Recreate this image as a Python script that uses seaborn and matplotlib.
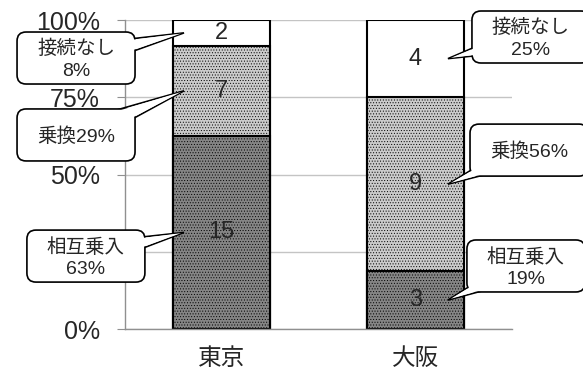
# stacked 100% bar chart with callouts

import numpy as np
import pandas as pd
import seaborn as sns
import matplotlib.pyplot as plt
from matplotlib.patches import FancyBboxPatch, Polygon
from matplotlib.transforms import IdentityTransform

# data
cities = ['東京', '大阪']
segments = ['相互乗入', '乗換', '接続なし']
mutual = [15, 3]
transfer = [7, 9]
no_link = [2, 4]
y_ticks = [0, 0.25, 0.5, 0.75, 1.0]
y_tick_labels = ['0%', '', '50%', '75%', '100%']  # 25% is hidden behind a callout

df = pd.DataFrame({'city': cities, '相互乗入': mutual, '乗換': transfer, '接続なし': no_link})
share = df[segments].div(df[segments].sum(axis=1), axis=0)
cum = share.cumsum(axis=1)

# style
sns.set_style('white')
plt.rcParams['font.family'] = ['Liberation Sans', 'Noto Sans CJK JP', 'DejaVu Sans']
plt.rcParams['hatch.linewidth'] = 0.4

seg_style = {
    '相互乗入': dict(color='#858585', hatch='......'),
    '乗換': dict(color='#cbcbcb', hatch='......'),
    '接続なし': dict(color='white', hatch=None),
}

fig = plt.figure(figsize=(5.83, 3.74), dpi=100)
ax = fig.add_axes([0.2144, 0.1203, 0.6638, 0.8262])

# draw cumulative layers, tallest first
plot_df = pd.concat([df[['city']], cum], axis=1)
for seg in reversed(segments):
    sns.barplot(data=plot_df, x='city', y=seg, color=seg_style[seg]['color'], saturation=1,
                width=0.5, edgecolor='black', linewidth=1.5, hatch=seg_style[seg]['hatch'],
                errorbar=None, ax=ax, zorder=2)

# counts inside bars
counts = df[segments].values
for i in range(len(cities)):
    for j, seg in enumerate(segments):
        mid = cum.iloc[i, j] - share.iloc[i, j] / 2
        ax.text(i, mid, str(counts[i, j]), ha='center', va='center', fontsize=17, zorder=3)

# axes
ax.set_xlim(-0.5, 1.5)
ax.set_ylim(0, 1)
ax.set_yticks(y_ticks)
ax.set_yticklabels(y_tick_labels)
ax.set_xlabel('')
ax.set_ylabel('')
ax.yaxis.grid(True, color='#c4c4c4', lw=1)
ax.set_axisbelow(True)
ax.set_xticks([-0.5, 0.5, 1.5], minor=True)
ax.tick_params(axis='x', which='major', length=0, pad=14, labelsize=17)
ax.tick_params(axis='x', which='minor', length=7, color='#909090', direction='out')
ax.tick_params(axis='y', length=6, color='#909090', pad=12, labelsize=18, left=True)
for s in ['top', 'right']:
    ax.spines[s].set_visible(False)
for s in ['left', 'bottom']:
    ax.spines[s].set_color('#909090')
    ax.spines[s].set_linewidth(1)

# callouts (box centres in data coords, drawn in pixels)
def pct_text(p):
    return f'{int(np.floor(p * 100 + 0.5))}%'

callout_pos = {
    (0, '接続なし'): (-0.753, 0.877),
    (0, '乗換'): (-0.753, 0.628),
    (0, '相互乗入'): (-0.702, 0.236),
    (1, '接続なし'): (1.598, 0.945),
    (1, '乗換'): (1.588, 0.579),
    (1, '相互乗入'): (1.572, 0.204),
}
tip_dx = [-0.195, 0.169]
box_w, box_h, half = 118, 52, 13
px = IdentityTransform()

for (i, seg), (bx, by) in callout_pos.items():
    sep = '' if seg == '乗換' else '\n'
    label = f'{seg}{sep}{pct_text(share.loc[i, seg])}'
    mid = cum.loc[i, seg] - share.loc[i, seg] / 2
    c = ax.transData.transform((bx, by))
    t = ax.transData.transform((i + tip_dx[i], mid))
    d = t - c
    u = d / np.hypot(*d)
    n = np.array([-u[1], u[0]])
    fig.add_artist(Polygon([c + n * half, t, c - n * half], closed=True, fc='white', ec='black',
                           lw=1.2, transform=px, zorder=5))
    fig.add_artist(FancyBboxPatch((c[0] - box_w / 2, c[1] - box_h / 2), box_w, box_h,
                                  boxstyle='round,pad=0,rounding_size=9', fc='white', ec='black',
                                  lw=1.2, transform=px, zorder=6))
    # open the box border where the pointer joins
    fig.add_artist(Polygon([c + n * (half - 2), t - u * 3, c - n * (half - 2)], closed=True,
                           fc='white', ec='none', transform=px, zorder=7))
    fig.text(c[0], c[1] - 2, label, ha='center', va='center', fontsize=14, linespacing=1.35,
             transform=px, zorder=8)

plt.savefig('out.png', dpi=100)
